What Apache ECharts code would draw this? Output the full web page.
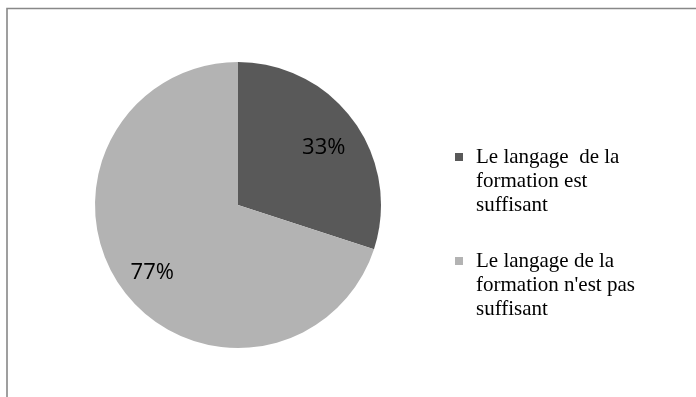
<!DOCTYPE html>
<html>
<head>
<meta charset="utf-8">
<script src="https://cdn.jsdelivr.net/npm/echarts@6/dist/echarts.min.js"></script>
<style>
  html, body { margin: 0; padding: 0; background: #ffffff; }
  #chart { width: 696px; height: 397px; }
</style>
</head>
<body>
<div id="chart"></div>
<script>
// Answers about the language used in the training
const categories = [
  'Le langage  de la\nformation est\nsuffisant',
  'Le langage de la\nformation n\'est pas\nsuffisant'
];
const percentValues = [33, 77];
const sliceColors = ['#595959', '#b3b3b3'];

const center = [238, 205];
const radius = 143;

const pieData = categories.map((name, i) => ({
  name: name,
  value: percentValues[i],
  itemStyle: { color: sliceColors[i] }
}));

// Legend drawn as graphic items: a small square and a multi-line serif text
const legendX = 455;
const legendTops = [153, 257];
const legendGraphics = [];
categories.forEach((name, i) => {
  legendGraphics.push({
    type: 'rect',
    left: legendX,
    top: legendTops[i],
    shape: { width: 8, height: 8 },
    style: { fill: sliceColors[i] }
  });
  legendGraphics.push({
    type: 'text',
    left: legendX + 21,
    top: legendTops[i] - 8,
    style: {
      text: name,
      font: '21px "Liberation Serif", "Times New Roman", serif',
      lineHeight: 24,
      fill: '#000000'
    }
  });
});

const chart = echarts.init(document.getElementById('chart'), null, { renderer: 'canvas' });
chart.setOption({
  backgroundColor: '#ffffff',
  animation: false,
  graphic: [
    {
      type: 'rect',
      shape: { x: 7, y: 8.5, width: 720, height: 420 },
      style: { fill: 'none', stroke: '#888888', lineWidth: 1.6 },
      silent: true
    }
  ].concat(legendGraphics),
  series: [
    {
      type: 'pie',
      center: center,
      radius: [0, radius],
      startAngle: 90,
      clockwise: true,
      silent: true,
      label: { show: false },
      labelLine: { show: false },
      itemStyle: { borderWidth: 0 },
      data: pieData
    },
    {
      // transparent ring that only carries the percentage labels
      type: 'pie',
      center: center,
      radius: [radius * 0.44, radius],
      startAngle: 90,
      clockwise: true,
      silent: true,
      itemStyle: { color: 'rgba(0,0,0,0)', borderWidth: 0 },
      label: {
        show: true,
        position: 'inside',
        formatter: p => p.value + '%',
        fontFamily: '"Open Sans", sans-serif',
        fontSize: 22,
        offset: [0, 5],
        color: '#000000'
      },
      labelLine: { show: false },
      data: categories.map((name, i) => ({ name: name, value: percentValues[i] }))
    }
  ]
});
</script>
</body>
</html>
